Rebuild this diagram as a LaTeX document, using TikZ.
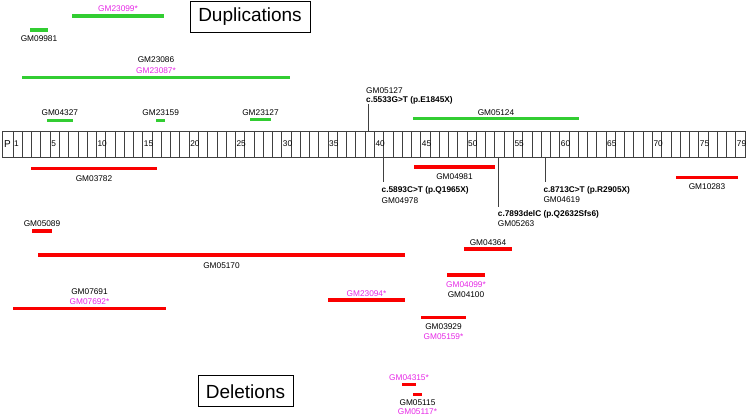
\documentclass[tikz,border=0pt]{standalone}
\usepackage{fontspec}
\setmainfont{Liberation Sans}
\usetikzlibrary{positioning}
\definecolor{dupgreen}{RGB}{50,205,50}
\definecolor{delred}{RGB}{250,0,0}
\definecolor{carrpink}{RGB}{230,40,230}
\newcommand{\exw}{9.266}

\begin{document}
\begin{tikzpicture}[x=1pt, y=-1pt,
  every node/.style={font=\fontsize{8.3}{10}\selectfont, inner sep=0pt},
  dupbar/.style={draw=dupgreen, line width=3.5pt},
  delbar/.style={draw=delred, line width=3.5pt},
  carr/.style={text=carrpink},
  mutlbl/.style={font=\fontsize{8.3}{10}\selectfont\bfseries},
  tick/.style={draw=black!75, line width=0.8pt},
  titlebox/.style={draw, line width=0.8pt, font=\fontsize{19}{21}\selectfont, minimum height=31pt}]

  \useasboundingbox (0,0) rectangle (747,417);

  % exon map
  \draw[black!75, line width=0.7pt] (2,131) rectangle (745,157);
  \foreach \i in {0,...,78}
    \draw[black!75, line width=0.7pt] (13+\i*\exw,131) -- (13+\i*\exw,157);
  \node[font=\fontsize{10}{12}\selectfont] (exP) at (7.5,144) {P};
  \foreach \n in {1,5,10,15,20,25,30,35,40,45,50,55,60,65,70,75,79}
    \node[anchor=west] (ex\n) at (14+\n*\exw-\exw,144) {\n};

  % duplications
  \node[titlebox, minimum width=120pt] (dupttl) at (250,16.5) {Duplications};
  \draw[dupbar] (72,16) -- node[above=3pt, carr] (g23099) {GM23099*} (164,16);
  \draw[dupbar] (30,30) -- node[below=4.3pt] (g09981) {GM09981} (48,30);
  \draw[dupbar] (22,77.5) -- node[above=2.5pt, carr] (g23087) {GM23087*} (290,77.5);
  \node[above=2.5pt of g23087] (g23086) {GM23086};
  \draw[dupbar] (47,120.5) -- node[above=3.3pt] (g04327) {GM04327} (72.7,120.5);
  \draw[dupbar] (156,120.5) -- node[above=3.3pt] (g23159) {GM23159} (165.3,120.5);
  \draw[dupbar] (250,119.5) -- node[above=2.5pt] (g23127) {GM23127} (271,119.5);
  \draw[dupbar] (413,118.5) -- node[above=1.5pt] (g05124) {GM05124} (579,118.5);

  % point mutations
  \coordinate (t5533) at (368,131);
  \coordinate (t5533e) at (368,104);
  \node[mutlbl, anchor=base west] (m5533) at (366,102.5) {c.5533G>T (p.E1845X)};
  \node[above right=2.5pt and 0pt of m5533.north west] (g05127) {GM05127};
  \draw[tick] (t5533) -- (t5533e);

  \coordinate (t5893) at (383,157);
  \coordinate (t5893e) at (383,182);
  \node[mutlbl, below right=4.5pt and -1.5pt of t5893e] (m5893) {c.5893C>T (p.Q1965X)};
  \node[below right=2.5pt and 0pt of m5893.south west] (g04978) {GM04978};
  \draw[tick] (t5893) -- (t5893e);

  \coordinate (t7893) at (498,157);
  \coordinate (t7893e) at (498,207);
  \node[mutlbl, below right=3pt and -0.3pt of t7893e] (m7893) {c.7893delC (p.Q2632Sfs6)};
  \node[below right=2.5pt and 0pt of m7893.south west] (g05263) {GM05263};
  \draw[tick] (t7893) -- (t7893e);

  \coordinate (t8713) at (545,157);
  \coordinate (t8713e) at (545,182);
  \node[mutlbl, below right=4.5pt and -1.7pt of t8713e] (m8713) {c.8713C>T (p.R2905X)};
  \node[below right=2pt and 0pt of m8713.south west] (g04619) {GM04619};
  \draw[tick] (t8713) -- (t8713e);

  % deletions
  \draw[delbar] (31,168.3) -- node[below=5.5pt] (g03782) {GM03782} (157,168.3);
  \draw[delbar] (414,167) -- node[below=4.7pt] (g04981) {GM04981} (495,167);
  \draw[delbar] (676,177.3) -- node[below=4.4pt] (g10283) {GM10283} (738,177.3);
  \draw[delbar] (32,231) -- node[above=2.5pt] (g05089) {GM05089} (52,231);
  \draw[delbar] (38,255) -- node[below=6pt] (g05170) {GM05170} (405,255);
  \draw[delbar] (13,308.3) -- node[above=2pt, carr] (g07692) {GM07692*} (166,308.3);
  \node[above=2.5pt of g07692] (g07691) {GM07691};
  \draw[delbar] (328,300) -- node[above=1.3pt, carr] (g23094) {GM23094*} (405,300);
  \draw[delbar] (464,249) -- node[above=2pt] (g04364) {GM04364} (512,249);
  \draw[delbar] (447,275) -- node[below=5pt, carr] (g04099) {GM04099*} (485,275);
  \node[below=2.2pt of g04099] (g04100) {GM04100};
  \draw[delbar] (421,317.3) -- node[below=5pt] (g03929) {GM03929} (466,317.3);
  \node[below=2.2pt of g03929, carr] (g05159) {GM05159*};
  \draw[delbar] (402,384.5) -- node[above=2pt, carr] (g04315) {GM04315*} (416,384.5);
  \draw[delbar] (413,394.3) -- node[below=3.5pt] (g05115) {GM05115} (422,394.3);
  \node[below=1.8pt of g05115, carr] (g05117) {GM05117*};
  \node[titlebox, minimum width=95pt] (delttl) at (245.5,391.3) {Deletions};
\end{tikzpicture}
\end{document}
